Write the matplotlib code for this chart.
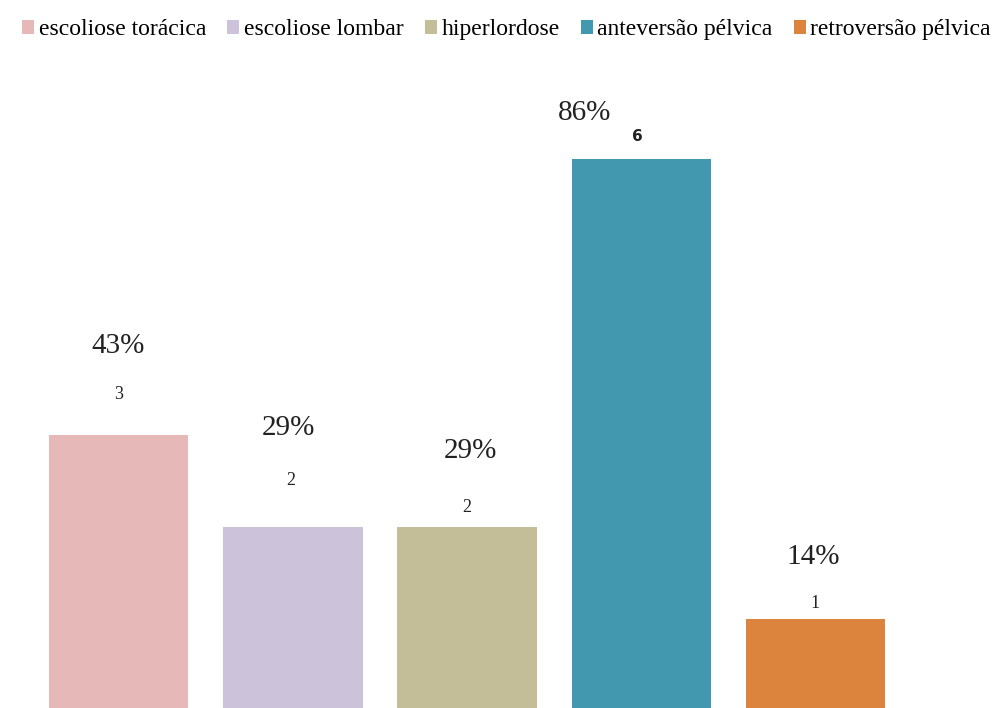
import matplotlib.pyplot as plt
from matplotlib.patches import Patch

# dados
categorias = ['escoliose torácica', 'escoliose lombar', 'hiperlordose',
              'anteversão pélvica', 'retroversão pélvica']
contagens = [3, 2, 2, 6, 1]
percentuais = ['43%', '29%', '29%', '86%', '14%']
cores = ['#E6B8B7', '#CCC2DA', '#C4BE98', '#4298AF', '#DC833D']

# deslocamentos dos rótulos (pixels acima do topo da barra)
desl_pct = [(0, 89), (-4, 99), (3, 76), (-57, 46), (-3, 62)]
desl_cont = [(0, 40), (-2, 46), (0, 19), (-4, 22), (-1, 15)]

fig = plt.figure(figsize=(9.97, 7.08), dpi=100)
ax = fig.add_axes([0, 0, 1, 1])

x = list(range(len(categorias)))
barras = ax.bar(x, contagens, width=0.8, color=cores)

ax.set_xlim(-0.68, 5.04)
ax.set_ylim(0.0326, 7.728)
ax.axis('off')

for i, (xi, v) in enumerate(zip(x, contagens)):
    ax.annotate(percentuais[i], (xi, v), xytext=desl_pct[i], textcoords='offset pixels',
                ha='center', va='center', fontsize=21, family='Liberation Serif',
                color='#222222')
    if i == 3:
        ax.annotate(str(v), (xi, v), xytext=desl_cont[i], textcoords='offset pixels',
                    ha='center', va='center', fontsize=11, family='DejaVu Sans',
                    fontweight='bold', color='#222222')
    else:
        ax.annotate(str(v), (xi, v), xytext=desl_cont[i], textcoords='offset pixels',
                    ha='center', va='center', fontsize=13, family='Liberation Serif',
                    color='#222222')

handles = [Patch(facecolor=c, edgecolor='none') for c in cores]
fig.legend(handles, categorias, loc='center', bbox_to_anchor=(0.508, 0.958), ncol=5,
           frameon=False, prop={'family': 'Liberation Serif', 'size': 17},
           handlelength=0.5, handleheight=0.5, handletextpad=0.2,
           columnspacing=0.9)

fig.savefig('out.png', dpi=100)
